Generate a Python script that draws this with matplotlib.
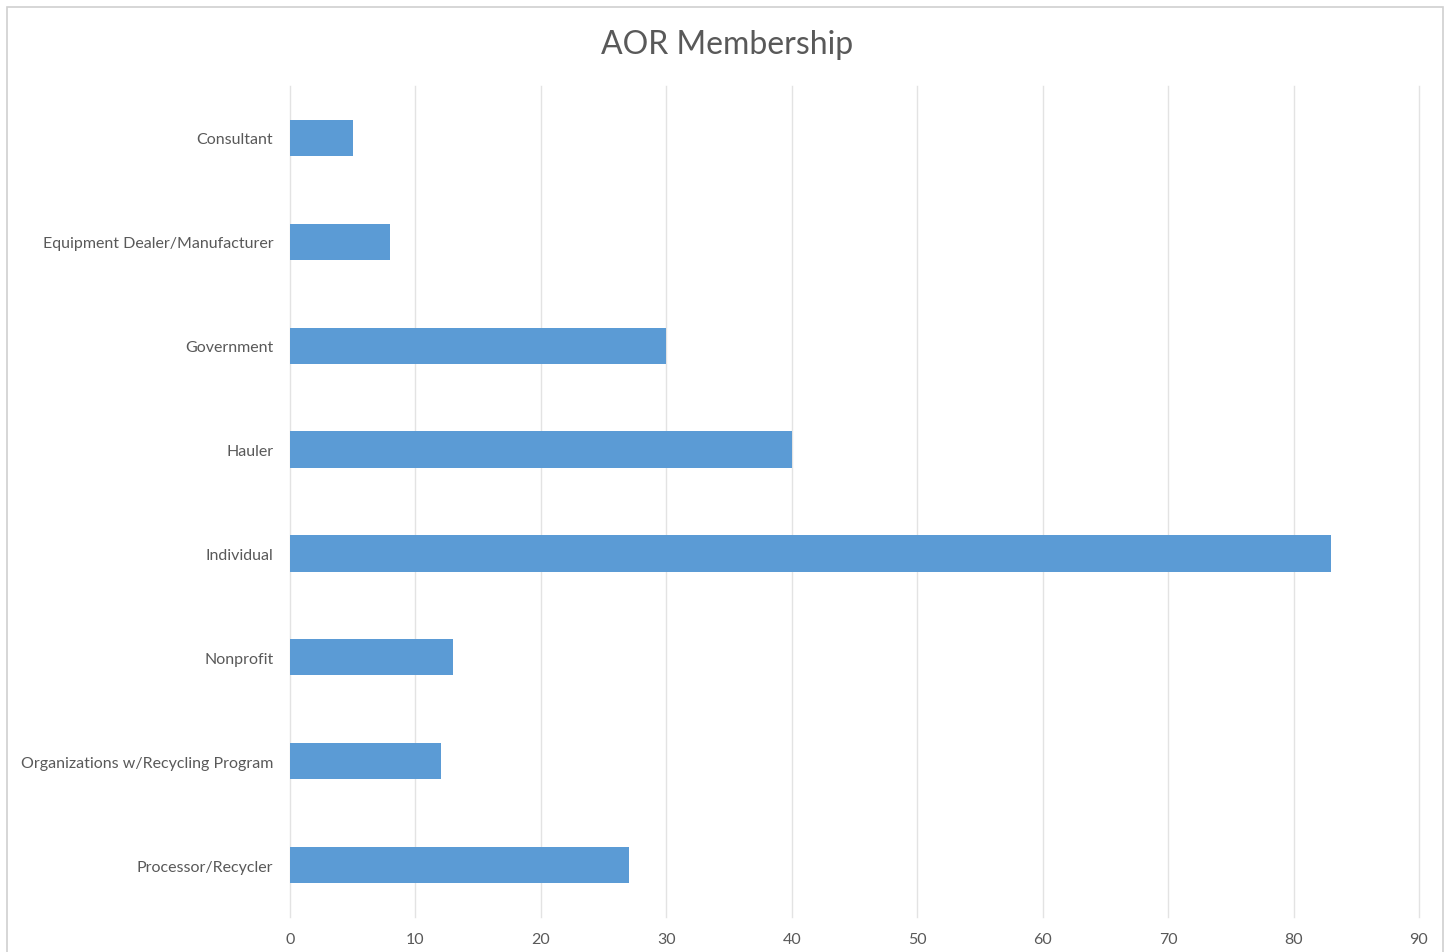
import matplotlib.pyplot as plt
from matplotlib.patches import Rectangle

# data
categories = ['Consultant', 'Equipment Dealer/Manufacturer', 'Government', 'Hauler',
              'Individual', 'Nonprofit', 'Organizations w/Recycling Program',
              'Processor/Recycler']
members = [5, 8, 30, 40, 83, 13, 12, 27]
xticks = [0, 10, 20, 30, 40, 50, 60, 70, 80, 90]

plt.rcParams['font.family'] = ['Lato', 'DejaVu Sans']

fig = plt.figure(figsize=(14.47, 9.53), dpi=100)
ax = fig.add_axes([290 / 1447, 1 - 918 / 953, 1129 / 1447, 831 / 953])

ypos = list(range(len(categories)))
ax.barh(ypos, members, height=0.35, color='#5B9BD5', zorder=3)
ax.set_ylim(len(categories) - 0.5, -0.5)
ax.set_xlim(0, 90)
ax.set_yticks(ypos)
ax.set_yticklabels(categories)
ax.set_xticks(xticks)

ax.grid(axis='x', color='#e3e3e3', linewidth=1, zorder=0)
for gl in ax.get_xgridlines():
    gl.set_clip_on(False)
for s in ax.spines.values():
    s.set_visible(False)
ax.tick_params(axis='both', length=0, labelsize=11.5, labelcolor='#595959')
ax.tick_params(axis='y', pad=12)
ax.tick_params(axis='x', pad=11)

fig.text(727 / 1447, 1 - 45 / 953, 'AOR Membership', ha='center', va='center',
         fontsize=23, color='#595959')

# outer chart border
fig.patches.append(Rectangle((7 / 1447, -0.05), 1436 / 1447, 1 - 8 / 953 + 0.05,
                             transform=fig.transFigure, fill=False,
                             edgecolor='#d0d0d0', linewidth=1.2))

fig.savefig('out.png', dpi=100)
